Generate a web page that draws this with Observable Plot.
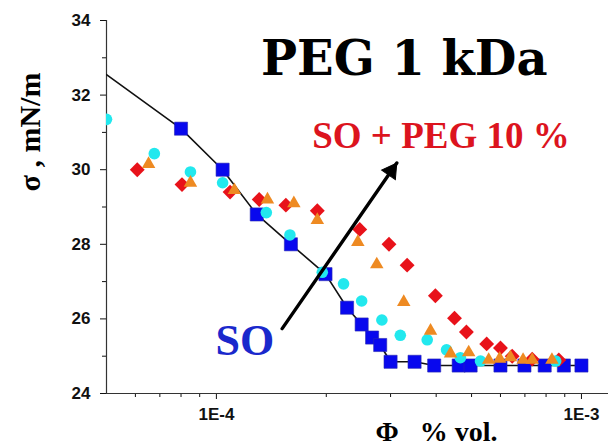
<!DOCTYPE html>
<html><head><meta charset="utf-8">
<script src="https://cdn.jsdelivr.net/npm/d3@7"></script>
<script src="https://cdn.jsdelivr.net/npm/@observablehq/plot@0.6"></script>
<style>
  html,body{margin:0;padding:0;background:#fff}
  #chart svg{display:block}
</style>
</head><body><div id="chart"></div>
<script>
// ---- tick definitions ----
const xMajorTicks = [1e-4, 1e-3];
const xMajorLabels = ["1E-4", "1E-3"];
const xMinorTicks = [6e-5, 7e-5, 8e-5, 9e-5, 2e-4, 3e-4, 4e-4, 5e-4, 6e-4, 7e-4, 8e-4, 9e-4];
const yMajorTicks = [24, 26, 28, 30, 32, 34];
const yMinorTicks = [25, 27, 29, 31, 33];

// ---- series: SO (blue squares, joined by black line) ----
const soPhi   = [8.0e-5, 1.04e-4, 1.29e-4, 1.60e-4, 1.99e-4, 2.28e-4, 2.50e-4, 2.67e-4, 2.81e-4, 3.0e-4, 3.49e-4, 3.95e-4, 4.61e-4, 4.97e-4, 6.0e-4, 6.98e-4, 7.93e-4, 8.95e-4, 1.0e-3];
const soSigma = [31.1, 30.0, 28.8, 28.0, 27.2, 26.3, 25.85, 25.5, 25.3, 24.85, 24.85, 24.75, 24.75, 24.75, 24.75, 24.75, 24.75, 24.75, 24.75];
// line extends to the left edge of the frame
const soLineStartPhi = [5.0e-5];
const soLineStartSigma = [32.55];

// ---- cyan circles ----
const cyanPhi   = [5.0e-5, 6.76e-5, 8.49e-5, 1.04e-4, 1.37e-4, 1.59e-4, 1.95e-4, 2.23e-4, 2.50e-4, 2.84e-4, 3.19e-4, 3.78e-4, 4.27e-4, 4.66e-4, 5.29e-4, 8.5e-4];
const cyanSigma = [31.35, 30.43, 29.94, 29.65, 28.85, 28.25, 27.25, 26.94, 26.48, 25.97, 25.56, 25.44, 25.17, 24.96, 24.87, 24.87];

// ---- red diamonds (SO + PEG 10 %) ----
const redPhi   = [6.07e-5, 8.05e-5, 1.09e-4, 1.31e-4, 1.55e-4, 1.89e-4, 2.47e-4, 2.97e-4, 3.33e-4, 3.98e-4, 4.49e-4, 4.84e-4, 5.50e-4, 6.0e-4, 6.46e-4, 7.33e-4, 8.67e-4];
const redSigma = [30.0, 29.6, 29.4, 29.2, 29.05, 28.9, 28.4, 28.0, 27.44, 26.62, 26.02, 25.65, 25.33, 25.22, 25.0, 24.92, 24.9];

// ---- orange triangles ----
const orangePhi   = [6.52e-5, 8.49e-5, 1.12e-4, 1.38e-4, 1.63e-4, 1.89e-4, 2.44e-4, 2.75e-4, 3.26e-4, 3.86e-4, 4.38e-4, 4.91e-4, 5.57e-4, 5.97e-4, 6.39e-4, 6.92e-4, 7.33e-4, 8.3e-4];
const orangeSigma = [30.15, 29.65, 29.45, 29.2, 29.1, 28.65, 28.06, 27.46, 26.45, 25.68, 25.07, 25.1, 24.9, 24.93, 24.97, 24.9, 24.9, 24.9];

// ---- annotation arrow (data coordinates) ----
const arrowFrom = {phi: 1.514e-4, sigma: 25.74};
const arrowTo   = {phi: 3.12e-4, sigma: 30.18};

// ---- texts ----
const titleText = "PEG 1 kDa";
const pegLabel = "SO + PEG 10 %";
const soLabel = "SO";
const yLabel = "σ , mN/m";
const xLabel = "Φ\u2002 % vol.";

const zip = (xs, ys) => xs.map((x, i) => ({phi: x, sigma: ys[i]}));
const so = zip(soPhi, soSigma);
const soLine = zip(soLineStartPhi, soLineStartSigma).concat(so);
const cyan = zip(cyanPhi, cyanSigma);
const red = zip(redPhi, redSigma);
const orange = zip(orangePhi, orangeSigma);

const serif = "'Liberation Serif', 'Times New Roman', serif";
const sans = "'Liberation Sans', Arial, sans-serif";

// arrowhead: filled triangle at the tip, rotated along the shaft
const headR = 6.2;
const headAngle = 35; // degrees clockwise from vertical (screen)
const headBack = 1.555 * headR;
const hdx = -headBack * Math.sin(headAngle * Math.PI / 180);
const hdy = headBack * Math.cos(headAngle * Math.PI / 180);

const chart = Plot.plot({
  width: 608,
  height: 445,
  marginLeft: 106,
  marginRight: 0,
  marginTop: 20,
  marginBottom: 52,
  x: {type: "log", domain: [5e-5, 1.186e-3]},
  y: {domain: [24, 34]},
  style: {background: "#fff", overflow: "visible", fontFamily: sans},
  marks: [
    // axes
    Plot.axisY({ticks: yMajorTicks, tickSize: 6, tickPadding: 10, label: null, fontSize: 17, fontWeight: "bold", fontFamily: sans, color: "#111"}),
    Plot.axisY({ticks: yMinorTicks, tickSize: 4, tickFormat: () => "", label: null, color: "#111"}),
    Plot.axisX({ticks: xMajorTicks, tickSize: 6, tickPadding: 8, label: null, fontSize: 17, fontWeight: "bold", fontFamily: sans, color: "#111",
      tickFormat: d => xMajorLabels[xMajorTicks.indexOf(d)]}),
    Plot.axisX({ticks: xMinorTicks, tickSize: 4, tickFormat: () => "", label: null, color: "#111"}),
    Plot.ruleX([5e-5], {stroke: "#333", strokeWidth: 1.2}),
    Plot.ruleY([24], {stroke: "#333", strokeWidth: 1.2}),

    // SO line + squares
    Plot.line(soLine, {x: "phi", y: "sigma", stroke: "#111", strokeWidth: 1.6, clip: true}),
    Plot.dot(so, {x: "phi", y: "sigma", symbol: "square", r: 7.4, fill: "#0808ee", stroke: "#2a2ab0", strokeWidth: 0.6}),
    // red diamonds
    Plot.dot(red, {x: "phi", y: "sigma", symbol: "diamond2", r: 6.7, fill: "#e8121a", stroke: "none"}),
    // cyan circles
    Plot.dot(cyan, {x: "phi", y: "sigma", symbol: "circle", r: 5.8, fill: "#22e8ee", stroke: "none", clip: true}),
    // orange triangles
    Plot.dot(orange, {x: "phi", y: "sigma", symbol: "triangle", r: 5.0, fill: "#ee8a22", stroke: "none"}),

    // arrow shaft + filled head
    Plot.link([{a: arrowFrom, b: arrowTo}], {
      x1: d => d.a.phi, y1: d => d.a.sigma, x2: d => d.b.phi, y2: d => d.b.sigma,
      stroke: "#000", strokeWidth: 3.4, strokeLinecap: "round"
    }),
    Plot.dot([arrowTo], {x: "phi", y: "sigma", symbol: "triangle", r: headR, rotate: headAngle,
      dx: hdx, dy: hdy, fill: "#000", stroke: "#000", strokeWidth: 1}),

    // texts
    Plot.text([{phi: 3.27e-4, sigma: 32.54, t: titleText}], {x: "phi", y: "sigma", text: "t",
      textAnchor: "middle", lineAnchor: "bottom", fontSize: 48, fontWeight: "bold",
      fontFamily: "'DejaVu Serif', serif", fill: "#000"}),
    Plot.text([{phi: 1.83e-4, sigma: 30.58, t: pegLabel}], {x: "phi", y: "sigma", text: "t",
      textAnchor: "start", lineAnchor: "bottom", fontSize: 37, fontWeight: "bold",
      fontFamily: serif, fill: "#dc141e"}),
    Plot.text([{phi: 9.94e-5, sigma: 25.02, t: soLabel}], {x: "phi", y: "sigma", text: "t",
      textAnchor: "start", lineAnchor: "bottom", fontSize: 44, fontWeight: "bold",
      fontFamily: serif, fill: "#1a28cc"}),
    Plot.text([yLabel], {frameAnchor: "left", dx: -76, dy: -75, rotate: -90,
      textAnchor: "middle", lineAnchor: "middle", fontSize: 30, fontWeight: "bold",
      fontFamily: serif, fill: "#000"}),
    Plot.text([xLabel], {frameAnchor: "bottom", dx: 79, dy: 47,
      textAnchor: "middle", lineAnchor: "bottom", fontSize: 28, fontWeight: "bold",
      fontFamily: serif, fill: "#000"})
  ]
});
document.getElementById("chart").appendChild(chart);
// make sure the tick labels are rendered bold and dark
const tickTexts = new Set(yMajorTicks.map(String).concat(xMajorLabels));
chart.querySelectorAll("text").forEach(t => {
  if (tickTexts.has(t.textContent.trim())) {
    t.setAttribute("font-weight", "bold");
    t.setAttribute("font-size", "17");
    t.setAttribute("font-family", sans);
    t.setAttribute("fill", "#111");
    t.style.fontWeight = "700";
    t.style.fontSize = "17px";
    t.style.fontFamily = sans;
    t.style.fill = "#111";
  }
});
</script>
</body></html>
